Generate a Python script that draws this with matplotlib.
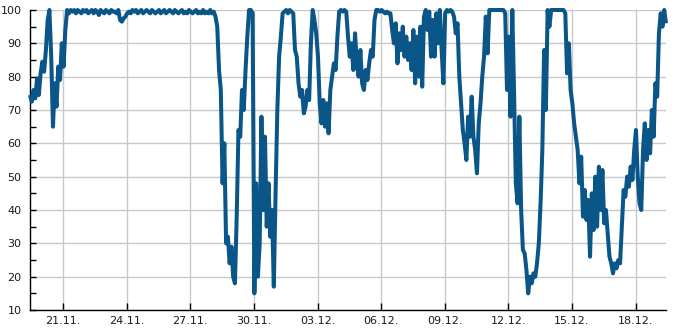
import matplotlib
matplotlib.use("Agg")
import matplotlib.pyplot as plt
import matplotlib.dates as mdates
from matplotlib.ticker import MultipleLocator
import pandas as pd

# ---- data: one value every 2 hours, one row per day starting 19.11. 10:30 ----
start = "2019-11-19 10:30"
step = "2h"
day_values = [
    [74.5, 72.5, 76, 73.5, 79.5, 74.5, 81, 84.5, 81.5, 88, 97, 100],
    [86, 65, 78, 71, 83, 79, 90, 83, 94, 100, 99, 100],
    [99.5, 100, 99, 100, 99.5, 99, 100, 99.5, 100, 99, 99.5, 100],
    [99, 100, 99.5, 98.5, 100, 99.5, 99, 100, 99.5, 99, 100, 99.5],
    [99.5, 99, 100, 97, 96.5, 97.5, 98, 99, 99.5, 99, 100, 99.5],
    [100, 99, 99.5, 100, 99, 99.5, 100, 99.5, 99, 100, 99.5, 99],
    [99.5, 100, 99, 99.5, 100, 99, 99.5, 100, 99.5, 99, 100, 99.5],
    [99, 99.5, 100, 99, 99.5, 99, 100, 99.5, 99, 99.5, 100, 99],
    [99.5, 99, 100, 99, 99.5, 99, 100, 99, 99.5, 98, 95, 82],
    [76, 48, 60, 30, 32, 24, 29, 20, 18, 38, 64, 62],
    [76, 70, 82, 92, 100, 100, 99, 15, 48, 20, 30, 68],
    [40, 62, 35, 48, 32, 40, 17, 45, 70, 86, 92, 99],
    [99.5, 100, 99, 100, 99.5, 99, 88, 86, 78, 74, 76, 69],
    [71, 76, 73, 90, 100, 97, 93, 86, 72, 66, 73, 65],
    [72, 63, 76, 80, 84, 82, 92, 99.5, 100, 99.5, 100, 99.5],
    [92, 86, 90, 82, 93, 84, 80, 88, 78, 76, 82, 79],
    [84, 88, 86, 97, 100, 100, 99.5, 100, 99.5, 99, 99.5, 99],
    [99, 94, 90, 96, 84, 93, 88, 95, 86, 92, 85, 90],
    [82, 94, 78, 92, 80, 95, 77, 98, 100, 94, 99.5, 86],
    [97, 86, 99, 90, 100, 88, 78, 99, 100, 99.5, 100, 99.5],
    [98, 93, 96, 80, 72, 64, 60, 55, 68, 62, 74, 62],
    [58, 51, 66, 72, 80, 86, 98, 87, 100, 100, 100, 100],
    [100, 100, 100, 100, 100, 99, 76, 92, 68, 100, 75, 48],
    [42, 68, 40, 28, 27, 22, 15, 20, 18, 21, 20, 24],
    [30, 42, 58, 88, 70, 100, 95, 100, 100, 100, 100, 100],
    [100, 100, 100, 99, 81, 90, 76, 72, 66, 62, 58, 48],
    [56, 38, 46, 37, 43, 26, 45, 34, 50, 35, 53, 40],
    [52, 36, 40, 33, 26, 24, 21, 24, 22.5, 25, 24, 35],
    [46, 44, 50, 47, 53, 49, 58, 64, 50, 42, 40, 58],
    [66, 55, 64, 57, 70, 62, 78, 74, 93, 99, 95, 100],
    [96],
]
tick_dates = ["2019-11-21", "2019-11-24", "2019-11-27", "2019-11-30",
              "2019-12-03", "2019-12-06", "2019-12-09", "2019-12-12",
              "2019-12-15", "2019-12-18"]
y_ticks = [10, 20, 30, 40, 50, 60, 70, 80, 90, 100]

values = [v for day in day_values for v in day]
times = pd.date_range(start, periods=len(values), freq=step)

# ---- figure ----
fig = plt.figure(figsize=(6.85, 3.30), dpi=100)
ax = fig.add_axes([30 / 685, 20 / 330, 636 / 685, 300 / 330])

ax.plot(times, values, color="#0b5688", lw=2.9, solid_joinstyle="round",
        solid_capstyle="butt", clip_on=False, zorder=3)

ax.set_xlim(times[0], times[-1])
ax.set_ylim(10, 100)
ax.set_yticks(y_ticks)
ax.yaxis.set_minor_locator(MultipleLocator(5))
ax.set_xticks(pd.to_datetime(tick_dates))
ax.xaxis.set_major_formatter(mdates.DateFormatter("%d.%m."))

ax.grid(True, which="major", color="#c8c8c8", lw=1.0, zorder=0)
for s in ("top", "right"):
    ax.spines[s].set_visible(False)
for s in ("left", "bottom"):
    ax.spines[s].set_color("#000000")
    ax.spines[s].set_linewidth(1.0)

ax.tick_params(axis="both", which="major", direction="in", length=4,
               width=1, color="#000000", labelsize=8, labelcolor="#1a1a1a")
ax.tick_params(axis="y", which="minor", direction="in", length=4, width=1,
               color="#000000")
ax.tick_params(axis="x", which="major", length=5, pad=4)
ax.tick_params(axis="y", which="major", pad=6)

fig.savefig("out.png", dpi=100)
